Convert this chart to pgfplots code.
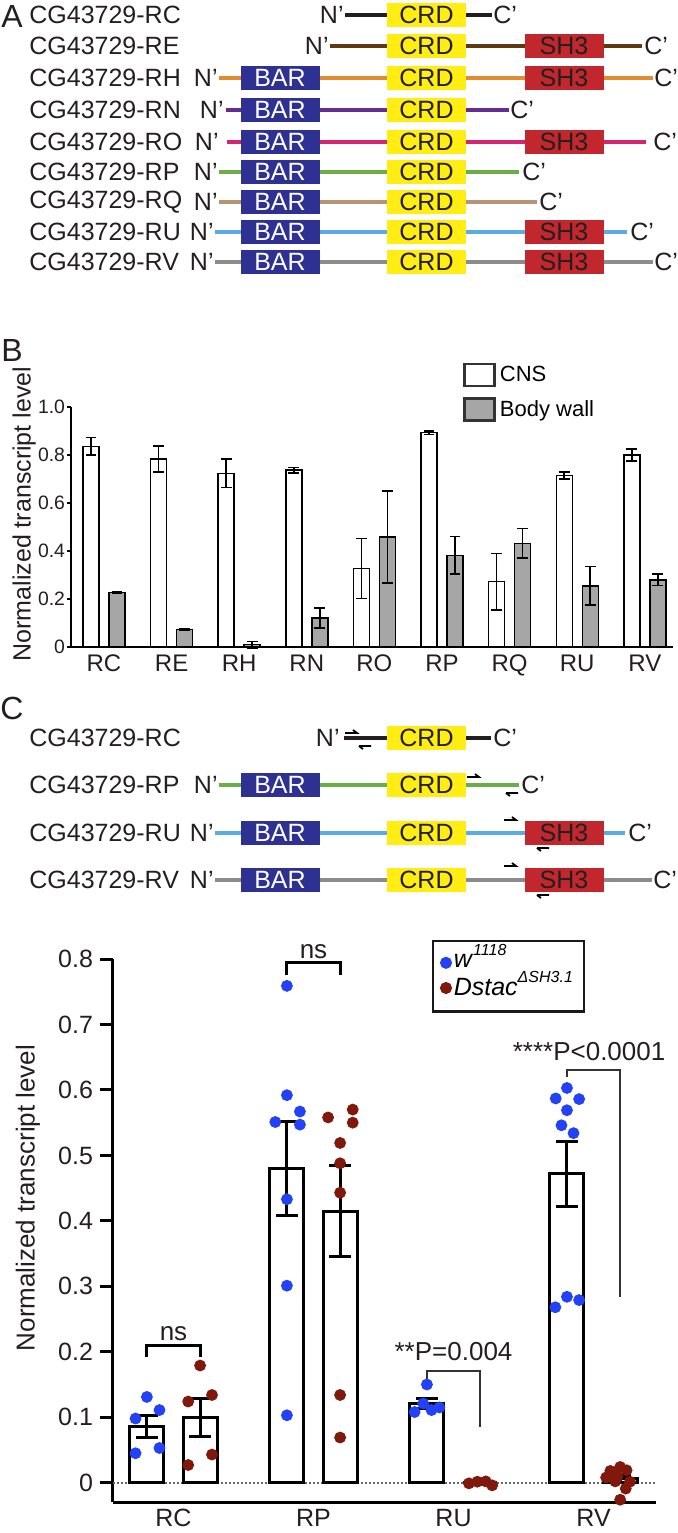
\documentclass[border=0pt]{standalone}
\usepackage{pgfplots}
\usepackage{pgfplotstable}
\pgfplotsset{compat=1.18}
\usepackage{fontspec}
\setmainfont{Liberation Sans}
\newcommand\fs[1]{\fontsize{#1}{#1}\selectfont}

\definecolor{barblue}{RGB}{46,49,146}
\definecolor{crdyellow}{RGB}{255,237,20}
\definecolor{shred}{RGB}{193,39,45}
\definecolor{txt}{RGB}{35,31,32}
\definecolor{cRC}{RGB}{35,31,32}
\definecolor{cRE}{RGB}{96,57,19}
\definecolor{cRH}{RGB}{226,139,48}
\definecolor{cRN}{RGB}{102,45,145}
\definecolor{cRO}{RGB}{214,36,110}
\definecolor{cRP}{RGB}{106,174,71}
\definecolor{cRQ}{RGB}{185,148,116}
\definecolor{cRU}{RGB}{90,172,228}
\definecolor{cRV}{RGB}{140,140,140}
\definecolor{wblue}{RGB}{35,65,245}
\definecolor{dred}{RGB}{128,24,12}

% panel B: mean and error per isoform
\pgfplotstableread{
x cns cnse bw bwe
0 0.836 0.037 0.227 0.004
1 0.783 0.055 0.074 0.003
2 0.724 0.060 0.010 0.013
3 0.737 0.011 0.121 0.042
4 0.327 0.125 0.458 0.192
5 0.893 0.007 0.382 0.079
6 0.272 0.118 0.432 0.062
7 0.714 0.015 0.255 0.080
8 0.800 0.025 0.280 0.024
}\tabB

% panel C: bar means and SEM
\pgfplotstableread{
x w we d de
0 0.086 0.017 0.100 0.029
1 0.480 0.072 0.415 0.070
2 0.121 0.008 0.000 0.000
3 0.472 0.050 0.006 0.005
}\tabC
% SEM of the mutant without the RU row (no visible bar there)
\pgfplotstableread{
x d de
0 0.100 0.029
1 0.415 0.070
3 0.006 0.005
}\tabCd

% panel C: single samples
\pgfplotstableread{
x y
-0.19 0.131
-0.100 0.111
-0.271 0.098
-0.100 0.053
-0.271 0.045
0.81 0.759
0.81 0.592
0.903 0.567
0.727 0.551
0.903 0.547
0.81 0.433
0.81 0.301
0.81 0.103
1.81 0.150
1.784 0.121
1.722 0.108
1.843 0.111
1.899 0.115
2.81 0.603
2.73 0.587
2.897 0.586
2.81 0.569
2.771 0.546
2.857 0.534
2.81 0.284
2.727 0.268
2.897 0.279
}\dotsW

\pgfplotstableread{
x y
0.19 0.179
0.105 0.124
0.275 0.134
0.275 0.043
0.105 0.027
1.28 0.570
1.104 0.558
1.28 0.550
1.19 0.519
1.19 0.488
1.19 0.443
1.19 0.134
1.19 0.069
2.11 -0.001
2.17 0.0015
2.23 0.002
2.276 -0.004
3.19 0.024
3.12 0.018
3.236 0.019
3.09 0.008
3.17 0.009
3.26 0.0015
3.155 0.002
3.23 -0.009
3.19 -0.026
}\dotsD

% domain diagram helpers (pixel coordinates, y downwards)
\tikzset{bx/.style={minimum width=39.5pt, minimum height=12pt, inner sep=0pt, font=\fs{12.5}, text=txt}}
\newcommand\Lab[2]{\node[anchor=west,inner sep=0pt,font=\fs{12.5},text=txt] at (29,#1) {CG43729-#2};}
\newcommand\Nq[2]{\node[anchor=east,inner sep=0pt,font=\fs{12.5},text=txt] at (#1,#2) {N’};}
\newcommand\Cq[2]{\node[anchor=west,inner sep=0pt,font=\fs{12.5},text=txt] at (#1,#2) {C’};}
\newcommand\Ln[4]{\draw[line width=1.6pt,#1] (#2,#4) -- (#3,#4);}
\newcommand\BAR[1]{\node[bx,fill=barblue,text=white] at (280,#1) {BAR};}
\newcommand\CRD[1]{\node[bx,fill=crdyellow] at (426.5,#1) {CRD};}
\newcommand\SH[1]{\node[bx,fill=shred] at (564,#1) {SH3};}
\newcommand\Fw[2]{\draw[line width=0.9pt] (#1,#2) -- ++(12,0) -- ++(-4,-3);}
\newcommand\Rv[2]{\draw[line width=0.9pt] (#1,#2) -- ++(12,0) (#1,#2) -- ++(4,3);}

\begin{document}
\begin{tikzpicture}
\path[use as bounding box] (0,0) rectangle (338.5pt,-766.5pt);

\begin{scope}[x=0.5pt,y=-0.5pt]
% panel letters
\node[font=\fs{16},text=txt] at (12,16) {A};
\node[font=\fs{16},text=txt] at (12,350) {B};
\node[font=\fs{16},text=txt] at (12,708) {C};

% ---- panel A ----
\Lab{15}{RC}\Ln{cRC}{345}{492}{15}\CRD{15}\Nq{344}{15}\Cq{493}{15}
\Lab{46}{RE}\Ln{cRE}{330}{642}{46}\CRD{46}\SH{46}\Nq{329}{46}\Cq{644}{46}
\Lab{78}{RH}\Ln{cRH}{219}{653}{78}\BAR{78}\CRD{78}\SH{78}\Nq{218}{78}\Cq{654}{78}
\Lab{110}{RN}\Ln{cRN}{226}{509}{110}\BAR{110}\CRD{110}\Nq{224}{110}\Cq{510}{110}
\Lab{142}{RO}\Ln{cRO}{227}{646}{142}\BAR{142}\CRD{142}\SH{142}\Nq{219}{142}\Cq{653}{142}
\Lab{172}{RP}\Ln{cRP}{219}{519}{172}\BAR{172}\CRD{172}\Nq{218}{172}\Cq{522}{172}
\Lab{202}{RQ}\Ln{cRQ}{219}{537}{202}\BAR{202}\CRD{202}\Nq{218}{202}\Cq{539}{202}
\Lab{232}{RU}\Ln{cRU}{215}{627}{232}\BAR{232}\CRD{232}\SH{232}\Nq{214}{232}\Cq{630}{232}
\Lab{262}{RV}\Ln{cRV}{215}{653}{262}\BAR{262}\CRD{262}\SH{262}\Nq{214}{262}\Cq{654}{262}

% ---- panel C diagrams ----
\Lab{738}{RC}\Ln{cRC}{344}{491}{738}\CRD{738}\Nq{340}{738}\Cq{493}{738}
\Fw{345}{733}\Rv{359}{746}
\Lab{785}{RP}\Ln{cRP}{219}{519}{785}\BAR{785}\CRD{785}\Nq{218}{785}\Cq{521}{785}
\Fw{467}{777}\Rv{506}{793}
\Lab{833}{RU}\Ln{cRU}{215}{625}{833}\BAR{833}\CRD{833}\SH{833}\Nq{214}{833}\Cq{628}{833}
\Fw{504}{820}\Rv{537}{848}
\Lab{880}{RV}\Ln{cRV}{215}{652}{880}\BAR{880}\CRD{880}\SH{880}\Nq{214}{880}\Cq{653}{880}
\Fw{504}{866}\Rv{537}{895}
\end{scope}

% ---- panel B ----
\begin{axis}[
  at={(35.5pt,-323.5pt)}, anchor=south west,
  scale only axis, width=301pt, height=120pt,
  xmin=-0.488, xmax=8.417, ymin=0, ymax=1,
  axis lines=left, axis line style={-, line width=0.9pt},
  clip=false,
  xtick={0,...,8}, xticklabels={RC,RE,RH,RN,RO,RP,RQ,RU,RV},
  ytick={0,0.2,0.4,0.6,0.8,1}, yticklabels={0,0.2,0.4,0.6,0.8,1.0},
  x tick style={draw=none},
  y tick style={line width=0.9pt, black},
  tick align=outside, major tick length=2pt, xticklabel shift=-1.5pt,
  yticklabel style={font=\fs{9.7}, inner sep=0.8pt, text=txt},
  xticklabel style={font=\fs{12}, text=txt},
  ylabel={Normalized transcript level},
  ylabel style={font=\fs{12.5}, text=txt, at={(axis description cs:-0.078,0.554)}, anchor=center},
  legend style={at={(axis description cs:0.651,1.19)}, anchor=north west, draw=none, fill=none,
    font=\fs{11}, inner sep=0pt, row sep=4pt},
  legend cell align=left,
  legend image code/.code={\draw[#1] (0pt,-5.5pt) rectangle (15pt,5.5pt);},
]
\addlegendimage{fill=white, draw=black!80, line width=1.3pt}
\addlegendentry{CNS}
\addlegendimage{fill=black!35, draw=black!80, line width=1.3pt}
\addlegendentry{Body wall}
\addplot[forget plot, ybar, bar width=8pt, bar shift=-6.5pt, fill=white, draw=black, line width=0.7pt]
  table[x=x, y=cns] {\tabB};
\addplot[forget plot, ybar, bar width=8pt, bar shift=6.5pt, fill=black!35, draw=black, line width=0.7pt]
  table[x=x, y=bw] {\tabB};
% error bars, drawn on their own at the bar centres
\addplot[forget plot, draw=none, mark=none,
  error bars/.cd, y dir=both, y explicit, error bar style={draw=black, line width=0.8pt},
  error mark options={rotate=90, mark size=2.7pt, line width=0.8pt, draw=black}]
  table[x expr=\thisrow{x}-0.192, y=cns, y error=cnse] {\tabB};
\addplot[forget plot, draw=none, mark=none,
  error bars/.cd, y dir=both, y explicit, error bar style={draw=black, line width=0.8pt},
  error mark options={rotate=90, mark size=2.7pt, line width=0.8pt, draw=black}]
  table[x expr=\thisrow{x}+0.192, y=bw, y error=bwe] {\tabB};
\end{axis}

% ---- panel C chart ----
\begin{axis}[
  at={(56.5pt,-751pt)}, anchor=south west,
  scale only axis, width=271.5pt, height=271.5pt,
  xmin=-0.432, xmax=3.446, ymin=-0.0295, ymax=0.8,
  axis lines=left, axis line style={-, line width=1.5pt},
  clip=false,
  xtick={0,1,2,3}, xticklabels={RC,RP,RU,RV}, x tick style={draw=none},
  ytick={0,0.1,0.2,0.3,0.4,0.5,0.6,0.7,0.8},
  yticklabels={0,0.1,0.2,0.3,0.4,0.5,0.6,0.7,0.8},
  y tick style={line width=1.5pt, black}, tick align=outside, major tick length=6.5pt,
  xticklabel shift=-6.5pt,
  yticklabel style={font=\fs{12.5}, text=txt},
  xticklabel style={font=\fs{12.5}, text=txt},
  ylabel={Normalized transcript level},
  ylabel style={font=\fs{13}, text=txt, at={(axis description cs:-0.1565,0.56)}, anchor=center},
  legend style={at={(axis description cs:0.5875,1.035)}, anchor=north west, draw=black!90, line width=1.2pt,
    fill=white, font=\fs{12.5}, inner xsep=4pt, inner ysep=5pt, row sep=0pt,
    nodes={inner ysep=1.75pt, inner xsep=1.5pt}},
  legend cell align=left,
  legend image code/.code={\draw[#1] plot coordinates {(3pt,0pt)};},
]
\addlegendimage{only marks, mark=*, mark size=2.4pt, color=wblue}
\addlegendentry{\textit{w}\smash{\raisebox{0.5em}{\fs{8}\itshape 1118}}}
\addlegendimage{only marks, mark=*, mark size=2.4pt, color=dred}
\addlegendentry{\textit{Dstac}\smash{\raisebox{0.5em}{\fs{8}\itshape ΔSH3.1}}}

\addplot[forget plot, black!60, densely dotted, line width=1pt] coordinates {(-0.432,0) (3.446,0)};

\addplot[forget plot, ybar, bar width=17pt, bar shift=-13.3pt, fill=white, draw=black, line width=1.5pt]
  table[x=x, y=w] {\tabC};
\addplot[forget plot, ybar, bar width=17pt, bar shift=13.3pt, fill=white, draw=black, line width=1.5pt]
  table[x=x, y=d] {\tabC};
\addplot[forget plot, draw=none, mark=none,
  error bars/.cd, y dir=both, y explicit, error bar style={draw=black, line width=1.5pt},
  error mark options={rotate=90, mark size=5.5pt, line width=1.5pt, draw=black}]
  table[x expr=\thisrow{x}-0.19, y=w, y error=we] {\tabC};
\addplot[forget plot, draw=none, mark=none,
  error bars/.cd, y dir=both, y explicit, error bar style={draw=black, line width=1.5pt},
  error mark options={rotate=90, mark size=5.5pt, line width=1.5pt, draw=black}]
  table[x expr=\thisrow{x}+0.19, y=d, y error=de] {\tabCd};

\addplot[forget plot, only marks, mark=*, mark size=2.75pt, color=wblue] table[x=x,y=y] {\dotsW};
\addplot[forget plot, only marks, mark=*, mark size=2.75pt, color=dred] table[x=x,y=y] {\dotsD};

% significance brackets
\addplot[forget plot, black, line width=1.5pt] coordinates {(-0.19,0.192) (-0.19,0.210) (0.19,0.210) (0.19,0.192)};
\addplot[forget plot, black, line width=1.5pt] coordinates {(0.81,0.775) (0.81,0.794) (1.19,0.794) (1.19,0.775)};
\addplot[forget plot, black!80, line width=1pt] coordinates {(1.81,0.159) (1.81,0.170) (2.19,0.170) (2.19,0.085)};
\addplot[forget plot, black!80, line width=1pt] coordinates {(2.81,0.620) (2.81,0.630) (3.19,0.630) (3.19,0.284)};
\node[anchor=base, font=\fs{13}, text=txt] at (axis cs:0,0.218) {ns};
\node[anchor=base, font=\fs{13}, text=txt] at (axis cs:1,0.801) {ns};
\node[anchor=base, font=\fs{13}, text=txt] at (axis cs:2,0.186) {**P=0.004};
\node[anchor=base, font=\fs{13}, text=txt] at (axis cs:2.968,0.645) {****P<0.0001};
\end{axis}
\end{tikzpicture}
\end{document}
